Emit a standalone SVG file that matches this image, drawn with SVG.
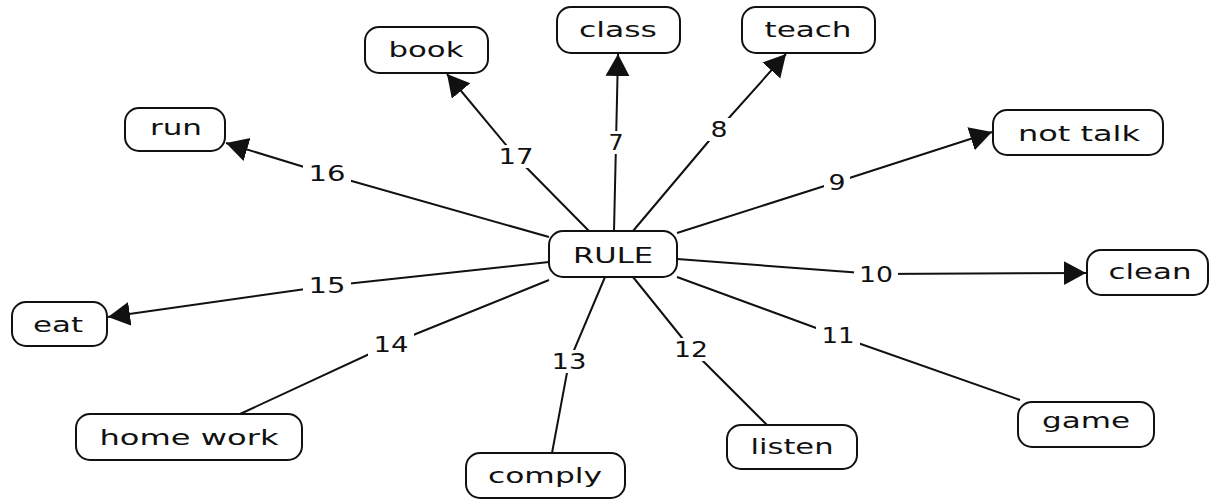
<svg xmlns="http://www.w3.org/2000/svg" width="1210" height="502" viewBox="0 0 1210 502">
<style>
.box{fill:#fff;stroke:#111;stroke-width:2}
.t{font-family:"DejaVu Sans",Verdana,sans-serif;font-size:22px;fill:#111;text-anchor:middle}
.c{fill:none;stroke:#111;stroke-width:2}
.bg{fill:#fff}
.l{font-family:"DejaVu Sans",Verdana,sans-serif;font-size:22px;fill:#111;text-anchor:middle}
</style>
<defs>
<marker id="ah" markerUnits="userSpaceOnUse" markerWidth="24" markerHeight="26" refX="22" refY="12" orient="auto">
<path d="M0,0 L22,12 L0,24 z" fill="#111"/>
</marker>
</defs>
<rect width="1210" height="502" fill="#fff"/>
<g id="connectors">
<polyline class="c" points="589,231 516,157 447,74" marker-end="url(#ah)"/>
<polyline class="c" points="614,231 616,143 618,54" marker-end="url(#ah)"/>
<polyline class="c" points="633,231 719,129 786,54" marker-end="url(#ah)"/>
<polyline class="c" points="677,233 837,182 992,132" marker-end="url(#ah)"/>
<polyline class="c" points="677,259 876,274 1086,273" marker-end="url(#ah)"/>
<polyline class="c" points="677,277 838,336 1020,400"/>
<polyline class="c" points="633,277 691,349 767,425"/>
<polyline class="c" points="605,277 569,362 552,453"/>
<polyline class="c" points="549,280 391,344 240,414"/>
<polyline class="c" points="549,262 327,286 108,317" marker-end="url(#ah)"/>
<polyline class="c" points="549,237 327,174 226,143" marker-end="url(#ah)"/>
<rect class="bg" x="494" y="145" width="44" height="23"/>
<rect class="bg" x="604" y="131" width="24" height="23"/>
<rect class="bg" x="706" y="118" width="26" height="23"/>
<rect class="bg" x="824" y="171" width="26" height="23"/>
<rect class="bg" x="854" y="263" width="44" height="23"/>
<rect class="bg" x="816" y="324" width="44" height="23"/>
<rect class="bg" x="669" y="338" width="44" height="23"/>
<rect class="bg" x="546" y="350" width="46" height="23"/>
<rect class="bg" x="368" y="333" width="46" height="23"/>
<rect class="bg" x="303" y="274" width="48" height="23"/>
<rect class="bg" x="303" y="162" width="48" height="23"/>
<text class="l" x="516" y="164" textLength="35" lengthAdjust="spacingAndGlyphs">17</text>
<text class="l" x="616" y="150" textLength="15" lengthAdjust="spacingAndGlyphs">7</text>
<text class="l" x="719" y="137" textLength="17" lengthAdjust="spacingAndGlyphs">8</text>
<text class="l" x="837" y="190" textLength="17" lengthAdjust="spacingAndGlyphs">9</text>
<text class="l" x="876" y="282" textLength="34" lengthAdjust="spacingAndGlyphs">10</text>
<text class="l" x="838" y="343" textLength="33" lengthAdjust="spacingAndGlyphs">11</text>
<text class="l" x="691" y="357" textLength="34" lengthAdjust="spacingAndGlyphs">12</text>
<text class="l" x="569" y="369" textLength="35" lengthAdjust="spacingAndGlyphs">13</text>
<text class="l" x="391" y="352" textLength="35" lengthAdjust="spacingAndGlyphs">14</text>
<text class="l" x="327" y="293" textLength="37" lengthAdjust="spacingAndGlyphs">15</text>
<text class="l" x="327" y="181" textLength="37" lengthAdjust="spacingAndGlyphs">16</text>
</g>
<g id="rule"><rect class="box" x="549" y="231" width="128" height="46" rx="14"/><text class="t" x="613" y="263" textLength="80" lengthAdjust="spacingAndGlyphs">RULE</text></g>
<g id="book"><rect class="box" x="365" y="27" width="123" height="46" rx="14"/><text class="t" x="426" y="57" textLength="75" lengthAdjust="spacingAndGlyphs">book</text></g>
<g id="class"><rect class="box" x="557" y="7" width="123" height="46" rx="14"/><text class="t" x="618" y="37" textLength="78" lengthAdjust="spacingAndGlyphs">class</text></g>
<g id="teach"><rect class="box" x="742" y="7" width="133" height="46" rx="14"/><text class="t" x="808" y="37" textLength="87" lengthAdjust="spacingAndGlyphs">teach</text></g>
<g id="nottalk"><rect class="box" x="993" y="110" width="170" height="45" rx="14"/><text class="t" x="1079" y="141" textLength="122" lengthAdjust="spacingAndGlyphs">not talk</text></g>
<g id="clean"><rect class="box" x="1087" y="250" width="121" height="45" rx="14"/><text class="t" x="1150" y="279" textLength="83" lengthAdjust="spacingAndGlyphs">clean</text></g>
<g id="run"><rect class="box" x="125" y="108" width="100" height="43" rx="14"/><text class="t" x="176" y="135" textLength="52" lengthAdjust="spacingAndGlyphs">run</text></g>
<g id="eat"><rect class="box" x="12" y="302" width="95" height="44" rx="14"/><text class="t" x="58" y="332" textLength="50" lengthAdjust="spacingAndGlyphs">eat</text></g>
<g id="homework"><rect class="box" x="76" y="414" width="226" height="46" rx="14"/><text class="t" x="189" y="445" textLength="179" lengthAdjust="spacingAndGlyphs">home work</text></g>
<g id="comply"><rect class="box" x="466" y="453" width="159" height="45" rx="14"/><text class="t" x="545" y="483" textLength="114" lengthAdjust="spacingAndGlyphs">comply</text></g>
<g id="listen"><rect class="box" x="727" y="425" width="130" height="44" rx="14"/><text class="t" x="792" y="454" textLength="83" lengthAdjust="spacingAndGlyphs">listen</text></g>
<g id="game"><rect class="box" x="1018" y="402" width="136" height="45" rx="14"/><text class="t" x="1086" y="428" textLength="88" lengthAdjust="spacingAndGlyphs">game</text></g>
</svg>
